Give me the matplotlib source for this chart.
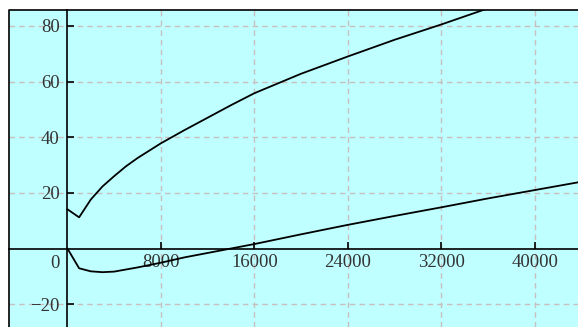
import matplotlib
matplotlib.use("Agg")
import matplotlib.pyplot as plt
from matplotlib.lines import Line2D

# values
upper_x = [0, 1000, 2000, 3000, 4000, 5000, 6000, 8000, 10000, 12000, 14000, 16000,
           20000, 24000, 28000, 32000, 36000, 40000, 44000]
upper_y = [14.1, 11.2, 17.6, 22.3, 26.0, 29.5, 32.5, 37.8, 42.5, 47.0, 51.5, 55.8,
           62.8, 69.0, 75.0, 80.5, 86.3, 91.5, 96.5]

lower_x = [0, 1000, 2000, 3000, 4000, 6000, 8000, 10000, 12000, 14000, 16000,
           20000, 24000, 28000, 32000, 36000, 40000, 44000]
lower_y = [0, -7.1, -8.2, -8.5, -8.3, -6.8, -5.1, -3.2, -1.6, 0.0, 1.6,
           5.1, 8.5, 11.7, 14.8, 18.0, 21.0, 24.0]

xticks = [8000, 16000, 24000, 32000, 40000]
yticks = [-20, 20, 40, 60, 80]

plt.rcParams['font.family'] = ['Liberation Serif', 'DejaVu Serif']
txt = '#333333'
fs = 13.5

fig = plt.figure(figsize=(5.78, 3.27), dpi=100)
W, H = 578, 327
ax = fig.add_axes([9 / W, 0, 1 - 9 / W, (H - 10) / H])
ax.set_facecolor('#c0ffff')

ax.set_xlim(-5000, 43700)
ax.set_ylim(-28.2, 85.7)

# grid
for xv in xticks:
    ax.axvline(xv, color='#c8c0c0', lw=1, dashes=(4, 3), zorder=1)
for yv in yticks:
    ax.axhline(yv, color='#c8c0c0', lw=1, dashes=(4, 3), zorder=1)

ax.plot(upper_x, upper_y, color='black', lw=1.3, zorder=3)
ax.plot(lower_x, lower_y, color='black', lw=1.3, zorder=3)

# axes through the origin
ax.spines['left'].set_position(('data', 0))
ax.spines['bottom'].set_position(('data', 0))
ax.spines['right'].set_visible(False)
ax.spines['top'].set_visible(False)
for s in ['left', 'bottom']:
    ax.spines[s].set_linewidth(1.2)
    ax.spines[s].set_zorder(4)

ax.set_xticks(xticks)
ax.set_xticklabels([str(v) for v in xticks])
ax.set_yticks(yticks)
ax.set_yticklabels([str(v).replace('-', '\u2212') for v in yticks])
ax.tick_params(direction='in', length=5, width=1.2, labelsize=fs,
               labelcolor=txt, color='black')
ax.tick_params(axis='x', pad=4)
ax.tick_params(axis='y', pad=5.5)
ax.annotate('0', xy=(0, 0), xytext=(-5.5, -5), textcoords='offset points',
            ha='right', va='top', fontsize=fs, color=txt)

# outer frame (left and top)
ax.add_line(Line2D([0, 0, 1], [0, 1, 1], transform=ax.transAxes,
                   color='black', lw=1.2, clip_on=False, zorder=5))

fig.savefig('out.png', dpi=100)
